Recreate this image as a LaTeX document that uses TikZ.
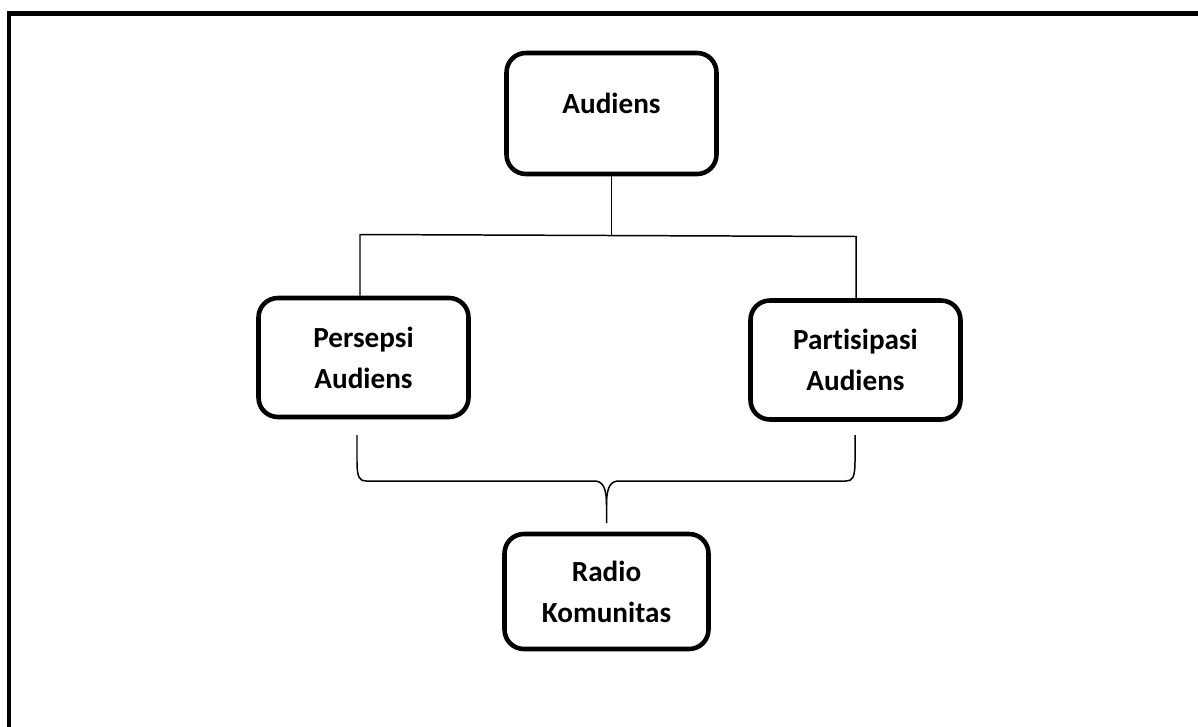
\documentclass[tikz,border=0pt]{standalone}
\usepackage{fontspec}
\setmainfont{Carlito}[Ligatures=NoCommon]
\usepackage{tikz}

\begin{document}
\begin{tikzpicture}[x=0.02cm,y=-0.02cm,
  line node/.style={line width=0.85pt},
  main node/.style={rectangle,draw,rounded corners=11pt,line width=2.6pt,
    minimum width=4.2cm,minimum height=2.38cm,align=center,
    font=\fontsize{16.6}{23.2}\selectfont\bfseries}]

    \useasboundingbox (0,0) rectangle (1198,727);

    % frame
    \draw[line width=2.8pt] (9,727) -- (9,13.5) -- (1198,13.5);

    \node[main node,text depth=12pt,minimum height=2.42cm] (audiens) at (611.5,113.5) {Audiens};
    \node[main node] (persepsi) at (363.5,357.5) {Persepsi\\Audiens};
    \node[main node] (partisipasi) at (855.5,360) {Partisipasi\\Audiens};
    \node[main node,minimum width=4.08cm,minimum height=2.3cm] (radio) at (606.5,591.5) {Radio\\Komunitas};

    % top branch
    \coordinate (barL) at (360,234.5);
    \coordinate (barR) at (856,236.5);
    \draw[line node] (audiens.south) -- (audiens.south |- barL);
    \draw[line node] (barL |- persepsi.north) -- (barL) -- (barR) -- (barR |- partisipasi.north);

    % brace
    \coordinate (braceL) at (357,435);
    \coordinate (braceR) at (855,435);
    \coordinate (tip) at (606.5,523);
    \draw[line node] (braceL) -- (357,462) .. controls (357,478) and (360,481) .. (366,481)
      -- (594,481) .. controls (602,481) and (606.5,486) .. (606.5,505) -- (tip);
    \draw[line node] (braceR) -- (855,462) .. controls (855,478) and (852,481) .. (846,481)
      -- (619,481) .. controls (611,481) and (606.5,486) .. (606.5,505);
\end{tikzpicture}
\end{document}
